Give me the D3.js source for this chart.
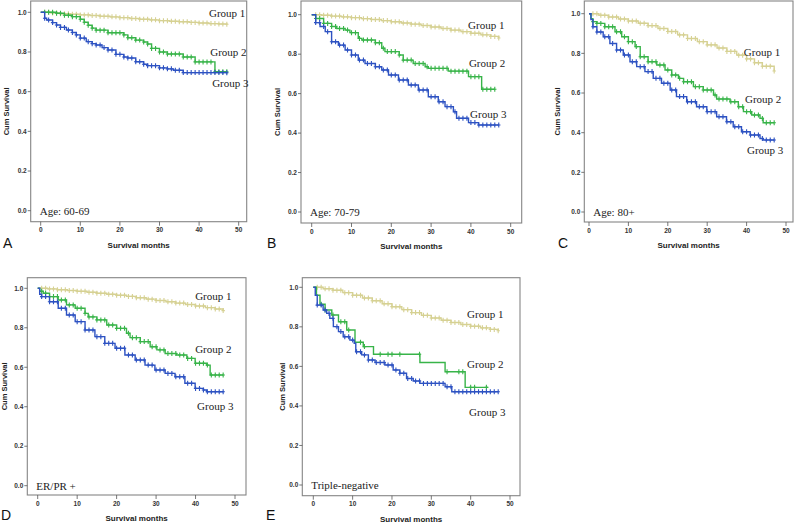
<!DOCTYPE html>
<html>
<head>
<meta charset="utf-8">
<script src="https://cdn.jsdelivr.net/npm/d3@7"></script>
<style>
  body { margin: 0; background: #fff; }
  svg { display: block; }
</style>
</head>
<body>
<svg id="chart" width="800" height="523"></svg>
<script>
// ---- data (months, cumulative survival) ----
var groupNames = ["Group 1", "Group 2", "Group 3"];
var yTicks = [0.0, 0.2, 0.4, 0.6, 0.8, 1.0];
var xTicks = [0, 10, 20, 30, 40, 50];
var censorMonths = [1, 2, 3, 4, 5, 6, 7, 8, 9, 10, 11, 12, 13, 14, 15, 16, 17, 18, 19, 20, 21, 22, 23, 24,
    25, 26, 27, 28, 29, 30, 31, 32, 33, 34, 35, 36, 37, 38, 39, 40, 41, 42, 43, 44, 45, 46, 47];
var censorMonthsE2 = [2, 3, 5, 7, 8, 9, 12, 13, 17, 19, 20, 22, 27, 34, 37, 38, 40, 41, 44];

var panelLetters = ["A", "B", "C", "D", "E"];
var panelNotes = ["Age: 60-69", "Age: 70-79", "Age: 80+", "ER/PR +", "Triple-negative"];

var a1 = [[0, 1], [2.5, 0.997], [5, 0.993], [7.5, 0.99], [10, 0.987], [12.5, 0.984], [15, 0.98], [17.5, 0.977], [20, 0.973],
    [22.5, 0.969], [25, 0.965], [27.5, 0.962], [30, 0.958], [32.5, 0.955], [35, 0.952], [37.5, 0.949], [40, 0.946], [42.5, 0.943], [45, 0.941], [47, 0.94]];
var a2 = [[0, 1], [4, 0.995], [6, 0.985], [8, 0.978], [10, 0.965], [11, 0.95], [12, 0.935], [13, 0.92], [14, 0.91], [17, 0.897],
    [21, 0.886], [22, 0.872], [24, 0.86], [26, 0.85], [27, 0.84], [28, 0.818], [30, 0.80], [32, 0.79], [36, 0.775], [39, 0.75], [44, 0.70], [47, 0.70]];
var a3 = [[0, 1], [1, 0.97], [1.5, 0.961], [3, 0.948], [4, 0.936], [5, 0.924], [6.5, 0.911], [8, 0.898], [9, 0.886], [10, 0.87],
    [11.5, 0.852], [13, 0.842], [14, 0.835], [15.5, 0.822], [17, 0.81], [19, 0.788], [21, 0.775], [22, 0.77], [24, 0.751], [26, 0.738],
    [27, 0.731], [30, 0.72], [32, 0.715], [33.5, 0.708], [36, 0.696], [47, 0.695]];

var b1 = [[0, 1], [2.5, 0.997], [5, 0.993], [7.5, 0.989], [10, 0.985], [12.5, 0.98], [15, 0.976], [17.5, 0.97], [20, 0.964], [22.5, 0.958],
    [25, 0.952], [27.5, 0.945], [30, 0.938], [32.5, 0.93], [35, 0.922], [37.5, 0.914], [40, 0.906], [42.5, 0.898], [45, 0.89], [47, 0.882]];
var b2 = [[0, 1], [1, 0.981], [3, 0.956], [5, 0.94], [6.3, 0.93], [8.4, 0.922], [9.6, 0.909], [11.7, 0.88], [12.6, 0.872], [16, 0.858],
    [17.6, 0.83], [18.4, 0.813], [22, 0.796], [23, 0.77], [25.5, 0.753], [28.5, 0.736], [29.3, 0.728], [34.3, 0.714], [39.4, 0.686],
    [42.7, 0.622], [46, 0.622]];
var b3 = [[0, 1], [1, 0.96], [2.1, 0.94], [3.4, 0.914], [5, 0.863], [6.7, 0.846], [8.4, 0.821], [10, 0.796], [11.7, 0.77], [13.4, 0.753],
    [16, 0.736], [17.6, 0.72], [19.3, 0.694], [21.8, 0.669], [24.3, 0.644], [26.8, 0.618], [29.3, 0.584], [31.8, 0.559], [33.5, 0.534],
    [35.6, 0.508], [36.4, 0.475], [39.4, 0.453], [41.9, 0.441], [47, 0.441]];

var c1 = [[0, 1], [2.5, 0.992], [5, 0.983], [7.5, 0.973], [10, 0.963], [12.5, 0.952], [15, 0.94], [17.5, 0.925], [20, 0.91], [22.5, 0.893],
    [25, 0.875], [27.5, 0.859], [30, 0.843], [32.5, 0.827], [35, 0.81], [37.5, 0.791], [40, 0.772], [42, 0.753], [44, 0.735], [47, 0.711]];
var c2 = [[0, 1], [0.5, 0.975], [1, 0.96], [2, 0.951], [4, 0.934], [6.6, 0.909], [8.3, 0.884], [10, 0.859], [11.7, 0.834], [13, 0.783],
    [15, 0.758], [17.2, 0.741], [19.3, 0.716], [21, 0.691], [22.7, 0.674], [24, 0.657], [26.5, 0.632], [29, 0.615], [31.6, 0.59],
    [32.4, 0.57], [35.8, 0.556], [37.9, 0.531], [39.2, 0.506], [41.3, 0.489], [43.4, 0.472], [44.2, 0.45], [47, 0.45]];
var c3 = [[0, 1], [0.5, 0.97], [1, 0.934], [2, 0.908], [3.6, 0.884], [5.3, 0.85], [7, 0.817], [8.7, 0.792], [10.4, 0.758], [12.1, 0.733],
    [14.2, 0.708], [16.3, 0.674], [18.4, 0.649], [20.6, 0.615], [22.2, 0.582], [24.8, 0.556], [27.3, 0.531], [29.9, 0.506], [32.4, 0.48],
    [34.9, 0.455], [36.6, 0.43], [38.7, 0.405], [40.9, 0.388], [43.4, 0.371], [44.2, 0.363], [47, 0.363]];

var d1 = [[0, 1], [2.5, 0.997], [5, 0.993], [7.5, 0.989], [10, 0.985], [12.5, 0.98], [15, 0.975], [17.5, 0.97], [20, 0.965], [22.5, 0.959],
    [25, 0.952], [27.5, 0.945], [30, 0.938], [32.5, 0.932], [35, 0.925], [37.5, 0.918], [40, 0.91], [42.5, 0.902], [45, 0.895], [47, 0.887]];
var d2 = [[0, 1], [0.5, 0.985], [1.4, 0.975], [3, 0.958], [5.2, 0.941], [7.3, 0.916], [9.5, 0.899], [12, 0.873], [12.8, 0.855], [15, 0.84],
    [17.5, 0.814], [20, 0.797], [22.5, 0.772], [23.4, 0.75], [26, 0.73], [28.5, 0.704], [30.2, 0.688], [32.3, 0.67], [35.2, 0.662],
    [37.8, 0.645], [39.9, 0.62], [42.8, 0.611], [43.7, 0.561], [47, 0.561]];
var d3s = [[0, 1], [0.5, 0.97], [1, 0.958], [3, 0.932], [5.2, 0.899], [7.3, 0.865], [9.5, 0.831], [12, 0.789], [14.5, 0.755], [17, 0.721],
    [19.6, 0.696], [22.1, 0.662], [24.7, 0.637], [27.2, 0.611], [29.7, 0.586], [32.3, 0.569], [34.8, 0.552], [37.3, 0.519], [39.9, 0.493],
    [42, 0.485], [42.8, 0.476], [47, 0.476]];

var e1 = [[0, 1], [2.5, 0.993], [5, 0.985], [7.5, 0.973], [10, 0.96], [12.5, 0.946], [15, 0.932], [17.5, 0.917], [20, 0.902], [22.5, 0.887],
    [25, 0.872], [27.5, 0.858], [30, 0.845], [32.5, 0.833], [35, 0.822], [37.5, 0.812], [40, 0.803], [42.5, 0.795], [45, 0.787], [47, 0.78]];
var e2 = [[0, 1], [0.8, 0.96], [1.7, 0.914], [3, 0.885], [4.7, 0.86], [6.4, 0.826], [8.5, 0.784], [10.6, 0.722], [12.7, 0.70],
    [15.3, 0.661], [27.1, 0.62], [33.5, 0.573], [38.6, 0.494], [44.5, 0.494]];
var e3 = [[0, 1], [0.5, 0.96], [1, 0.91], [2.5, 0.885], [3.4, 0.868], [4.2, 0.843], [5.1, 0.801], [6.4, 0.776], [7.6, 0.75], [9.3, 0.733],
    [10.4, 0.717], [10.8, 0.674], [12.3, 0.658], [14, 0.632], [15.7, 0.62], [18.2, 0.607], [20.3, 0.582], [22, 0.565], [23.7, 0.539],
    [25.4, 0.526], [27.1, 0.514], [33.5, 0.497], [35.2, 0.472], [47, 0.472]];

// group label anchors in data units (month, survival)
var labelPosA = [[42.5, 0.997], [42.8, 0.80], [43.3, 0.644]];
var labelPosB = [[39.3, 0.948], [39.5, 0.755], [39.8, 0.497]];
var labelPosC = [[39.3, 0.807], [39.6, 0.57], [40.1, 0.313]];
var labelPosD = [[39.9, 0.961], [39.9, 0.692], [40.4, 0.404]];
var labelPosE = [[39.1, 0.865], [39.1, 0.612], [39.6, 0.369]];

var colors = ["#d6d193", "#38b449", "#2d52c2"];

// ---- layout (pixels) ----
var panels = [
    {box: [30.7, 1, 246.7, 221.7], x: [40.7, 238.7], y: [210.7, 12.3], ylab: 6, curves: [a1, a2, a3], labels: labelPosA, letter: [3, 248]},
    {box: [301, 1, 521.7, 223], x: [311.7, 510.7], y: [212, 14.7], ylab: 277, curves: [b1, b2, b3], labels: labelPosB, letter: [267, 248]},
    {box: [584.3, 1, 793, 222], x: [589, 786], y: [212, 13.7], ylab: 557, curves: [c1, c2, c3], labels: labelPosC, letter: [558, 248]},
    {box: [27.3, 277.7, 246, 495], x: [37.7, 235], y: [485.7, 288.3], ylab: 4, curves: [d1, d2, d3s], labels: labelPosD, letter: [1, 520]},
    {box: [302.3, 277.7, 520, 495.7], x: [313.3, 510], y: [485, 287.3], ylab: 282, curves: [e1, e2, e3], labels: labelPosE, letter: [266, 520]}
];

var svg = d3.select("#chart");
svg.append("rect").attr("width", 800).attr("height", 523).attr("fill", "#fff");

function valueAt(curve, t) {
    var i = d3.bisector(function (d) { return d[0]; }).right(curve, t) - 1;
    return curve[Math.max(0, i)][1];
}

function drawPanel(p, pi) {
    var g = svg.append("g");
    var x = d3.scaleLinear().domain([0, 50]).range(p.x);
    var y = d3.scaleLinear().domain([0, 1]).range(p.y);
    var b = p.box;

    g.append("rect")
        .attr("x", b[0]).attr("y", b[1])
        .attr("width", b[2] - b[0]).attr("height", b[3] - b[1])
        .attr("fill", "none").attr("stroke", "#858585").attr("stroke-width", 1.1);

    // y ticks on the left edge of the box
    g.selectAll(".yt").data(yTicks).enter().append("line")
        .attr("x1", b[0] - 3).attr("x2", b[0])
        .attr("y1", function (d) { return y(d); }).attr("y2", function (d) { return y(d); })
        .attr("stroke", "#555").attr("stroke-width", 0.8);
    g.selectAll(".yl").data(yTicks).enter().append("text")
        .attr("x", b[0] - 4).attr("y", function (d) { return y(d); })
        .attr("dy", "0.35em").attr("text-anchor", "end")
        .style("font", "bold 6.5px 'Liberation Sans', Arial, sans-serif").attr("fill", "#333")
        .text(d3.format(".1f"));

    // x ticks under the box
    g.selectAll(".xt").data(xTicks).enter().append("line")
        .attr("x1", function (d) { return x(d); }).attr("x2", function (d) { return x(d); })
        .attr("y1", b[3]).attr("y2", b[3] + 4)
        .attr("stroke", "#555").attr("stroke-width", 0.8);
    g.selectAll(".xl").data(xTicks).enter().append("text")
        .attr("x", function (d) { return x(d); }).attr("y", b[3] + 8.5)
        .attr("dy", "0.35em").attr("text-anchor", "middle")
        .style("font", "bold 6.5px 'Liberation Sans', Arial, sans-serif").attr("fill", "#333")
        .text(function (d) { return d; });

    g.append("text")
        .attr("x", (b[0] + b[2]) / 2).attr("y", b[3] + 23.5)
        .attr("dy", "0.35em").attr("text-anchor", "middle")
        .style("font", "bold 8px 'Liberation Sans', Arial, sans-serif").attr("fill", "#222")
        .text("Survival months");

    g.append("text")
        .attr("transform", "translate(" + p.ylab + "," + ((b[1] + b[3]) / 2) + ") rotate(-90)")
        .attr("dy", "0.35em").attr("text-anchor", "middle")
        .style("font", "bold 7.5px 'Liberation Sans', Arial, sans-serif").attr("fill", "#222")
        .text("Cum Survival");

    g.append("text")
        .attr("x", p.letter[0]).attr("y", p.letter[1])
        .style("font", "14px 'Liberation Sans', Arial, sans-serif").attr("fill", "#111")
        .text(panelLetters[pi]);

    var line = d3.line()
        .x(function (d) { return x(d[0]); })
        .y(function (d) { return y(d[1]); })
        .curve(d3.curveStepAfter);

    p.curves.forEach(function (c, ci) {
        g.append("path").datum(c)
            .attr("d", line)
            .attr("fill", "none").attr("stroke", colors[ci]).attr("stroke-width", 1.4);

        var cm = (pi === 4 && ci === 1) ? censorMonthsE2 : censorMonths;
        var last = c[c.length - 1][0];
        var marks = cm.filter(function (t) { return t <= last; });
        g.selectAll(".cm" + ci).data(marks).enter().append("path")
            .attr("d", function (t) {
                var px = x(t), py = y(valueAt(c, t));
                return "M" + (px - 1.7) + "," + py + "H" + (px + 1.7) + "M" + px + "," + (py - 2.5) + "V" + (py + 2.5);
            })
            .attr("stroke", colors[ci]).attr("stroke-width", 1.1).attr("fill", "none");
    });

    g.selectAll(".gl").data(p.labels).enter().append("text")
        .attr("x", function (d) { return x(d[0]); })
        .attr("y", function (d) { return y(d[1]); })
        .attr("dy", "0.35em")
        .style("font", "11px 'Liberation Serif', 'Times New Roman', serif").attr("fill", "#222")
        .text(function (d, i) { return groupNames[i]; });

    g.append("text")
        .attr("x", b[0] + 9).attr("y", y(0))
        .attr("dy", "0.35em")
        .style("font", "11px 'Liberation Serif', 'Times New Roman', serif").attr("fill", "#222")
        .text(panelNotes[pi]);
}

panels.forEach(drawPanel);
</script>
</body>
</html>
